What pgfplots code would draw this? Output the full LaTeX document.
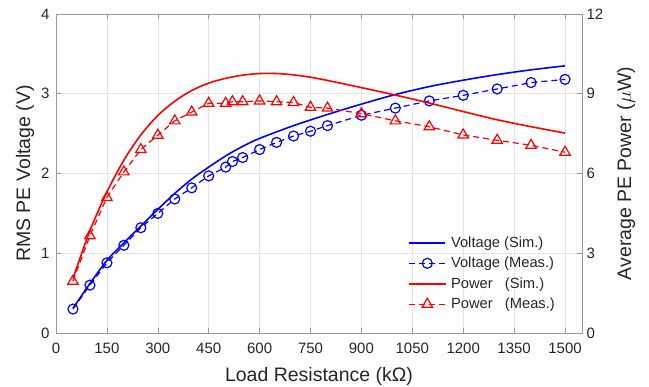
\documentclass[border=0pt]{standalone}
\usepackage{pgfplots}
\pgfplotsset{compat=1.18}
\usepackage{fontspec}
\setmainfont{Liberation Sans}
\definecolor{axgray}{RGB}{38,38,38}
\begin{document}
\begin{tikzpicture}
\pgfplotsset{
  every axis/.append style={
    scale only axis, width=526bp, height=319bp,
    xmin=0, xmax=1550,
    /pgf/number format/assume math mode=true,
    /pgf/number format/1000 sep={},
    tick label style={font=\fontsize{15bp}{17bp}\selectfont, text=axgray},
    label style={font=\fontsize{19.5bp}{22bp}\selectfont, text=axgray},
    tick align=inside,
    major tick length=5bp,
    axis line style={gray!80},
    tick style={gray!80, line width=0.6bp},
  },
}
\begin{axis}[
  name=ax,
  ymin=0, ymax=4,
  xtick={0,150,...,1500},
  ytick={0,1,2,3,4},
  xtick pos=both, ytick pos=left,
  grid=major,
  major grid style={gray!20, line width=0.5bp},
  xticklabel style={yshift=-7bp},
  yticklabel style={xshift=-3bp},
  xlabel={Load Resistance (kΩ)},
  ylabel={RMS PE Voltage (V)},
  xlabel style={at={(axis description cs:0.5,-0.135)}, anchor=center},
  ylabel style={at={(axis description cs:-0.059,0.5)}, anchor=center},
]
\addplot[blue, line width=1.6bp, smooth] coordinates {
(50,0.31) (100,0.62) (150,0.91) (200,1.13) (250,1.34) (300,1.55) (350,1.75)
(400,1.93) (450,2.08) (500,2.22) (550,2.34) (600,2.44) (700,2.60) (800,2.74) (900,2.87)
(1000,2.99) (1100,3.09) (1200,3.17) (1300,3.24) (1400,3.30) (1500,3.35)};
\addplot[blue, line width=1.2bp, dash pattern=on 6bp off 4bp, mark=o, mark size=5bp, mark options={solid}] coordinates {
(50,0.30) (100,0.60) (150,0.88) (200,1.10) (250,1.32) (300,1.50) (350,1.68)
(400,1.82) (450,1.97) (500,2.08) (520,2.15) (550,2.20) (600,2.30) (650,2.39)
(700,2.47) (750,2.53) (800,2.60) (900,2.73) (1000,2.82) (1100,2.91)
(1200,2.98) (1300,3.06) (1400,3.14) (1500,3.18)};
\end{axis}
\begin{axis}[
  ymin=0, ymax=12,
  ytick={0,3,6,9,12},
  axis x line=none,
  axis y line*=right,
  yticklabel style={xshift=1bp},
  ylabel={Average PE Power ($\mu$W)},
  ylabel style={at={(axis description cs:1.0837,0.5)}, anchor=center},
  legend style={at={(axis description cs:0.668,0.3115)}, anchor=north west, draw=none, fill=none,
    font=\fontsize{14.7bp}{17bp}\selectfont, text=axgray, row sep=4.3bp, column sep=3bp,
    inner sep=1bp},
  legend cell align=left,
  legend image code/.code={\draw[mark repeat=2,mark phase=2,#1] plot coordinates {(0cm,0cm) (0.63cm,0cm) (1.26cm,0cm)};},
]
\addlegendimage{draw=blue, line width=1.8bp, mark=none}
\addlegendentry{Voltage (Sim.)}
\addlegendimage{blue, line width=1.2bp, dash pattern=on 6bp off 4bp, mark=o, mark size=5bp, mark options={solid}}
\addlegendentry{Voltage (Meas.)}
\addplot[red, line width=1.6bp, smooth] coordinates {
(50,2.05) (100,3.85) (150,5.30) (200,6.50) (250,7.45) (300,8.18) (350,8.72)
(400,9.12) (450,9.40) (500,9.58) (550,9.70) (600,9.76) (650,9.76) (700,9.71)
(750,9.62) (800,9.50) (900,9.23) (1000,8.95) (1100,8.65) (1200,8.33) (1300,8.02)
(1400,7.76) (1500,7.52)};
\addlegendentry{Power\hspace{0.835em}(Sim.)}
\addplot[red, line width=1.2bp, dash pattern=on 6bp off 4bp, mark=triangle, mark size=6bp, mark options={solid}] coordinates {
(50,1.95) (100,3.66) (150,5.10) (200,6.06) (250,6.90) (300,7.44) (350,7.98)
(400,8.31) (450,8.64) (500,8.64) (520,8.70) (550,8.70) (600,8.73) (650,8.70)
(700,8.67) (750,8.49) (800,8.46) (900,8.25) (1000,7.98) (1100,7.76)
(1200,7.45) (1300,7.25) (1400,7.06) (1500,6.80)};
\addlegendentry{Power\hspace{0.835em}(Meas.)}
\end{axis}
\path (ax.south west) ++(-56bp,-54bp) coordinate (bbA);
\path (ax.north east) ++(67bp,14bp) coordinate (bbB);
\pgfresetboundingbox
\useasboundingbox (bbA) rectangle (bbB);
\end{tikzpicture}
\end{document}
